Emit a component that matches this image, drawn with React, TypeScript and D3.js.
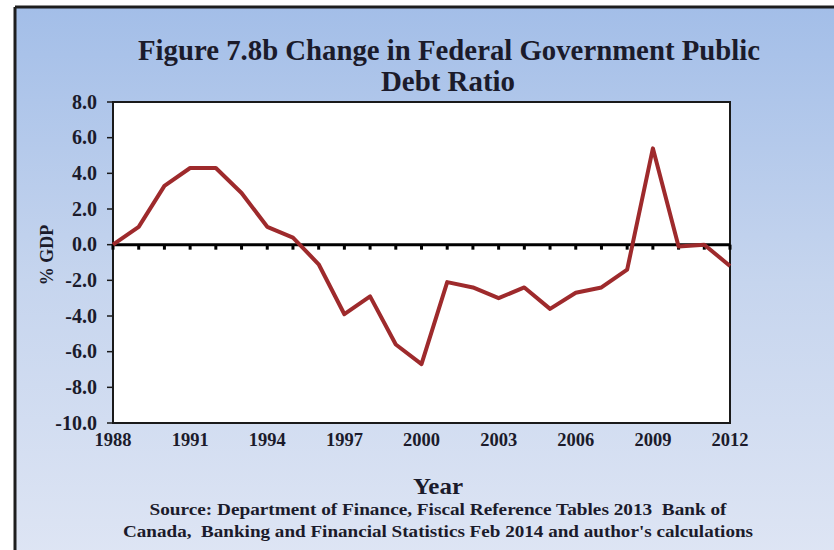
import React from "react";
import * as d3 from "d3";

const years: number[] = [1988, 1989, 1990, 1991, 1992, 1993, 1994, 1995, 1996, 1997, 1998, 1999, 2000, 2001, 2002, 2003, 2004, 2005, 2006, 2007, 2008, 2009, 2010, 2011, 2012];
const debtChange: number[] = [0.0, 1.0, 3.3, 4.3, 4.3, 2.9, 1.0, 0.4, -1.1, -3.9, -2.9, -5.6, -6.7, -2.1, -2.4, -3.0, -2.4, -3.6, -2.7, -2.4, -1.4, 5.4, -0.1, 0.0, -1.2];
const yTicks: number[] = [8, 6, 4, 2, 0, -2, -4, -6, -8, -10];
const xTickLabels: number[] = [1988, 1991, 1994, 1997, 2000, 2003, 2006, 2009, 2012];

const titleLines: string[] = ["Figure 7.8b Change in Federal Government Public", "Debt Ratio"];
const sourceLines: string[] = [
  "Source: Department of Finance, Fiscal Reference Tables 2013  Bank of",
  "Canada,  Banking and Financial Statistics Feb 2014 and author's calculations",
];

export default function App() {
  const W = 834;
  const H = 550;
  const left = 113, right = 730, top = 102, bottom = 423;
  const x = d3.scaleLinear().domain([1988, 2012]).range([left, right]);
  const y = d3.scaleLinear().domain([-10, 8]).range([bottom, top]);
  const line = d3
    .line<number>()
    .x((_, i) => x(years[i]))
    .y((d) => y(d))
    .curve(d3.curveLinear);
  const font = "'Liberation Serif', 'Times New Roman', serif";
  const ink = "#1b1b2b";

  return (
    <svg width={W} height={H} style={{ position: "absolute", left: 0, top: 0, display: "block" }} fontFamily={font}>
      <defs>
        <linearGradient id="bg" x1="0" y1="0" x2="0" y2="1">
          <stop offset="0" stopColor="#a3bee8" />
          <stop offset="0.5" stopColor="#c6d5ee" />
          <stop offset="1" stopColor="#dee5f4" />
        </linearGradient>
      </defs>
      <rect x={0} y={0} width={W} height={H} fill="#ffffff" />
      <rect x={15} y={7} width={W} height={H} fill="url(#bg)" />
      <line x1={15} y1={7} x2={W} y2={7} stroke="#1e1e1e" strokeWidth={3} />
      <line x1={15} y1={7} x2={15} y2={H} stroke="#1e1e1e" strokeWidth={3} />

      <text x={449} y={60} textAnchor="middle" fontSize={30} fontWeight="bold" fill={ink} textLength={622} lengthAdjust="spacingAndGlyphs">
        {titleLines[0]}
      </text>
      <text x={448} y={91} textAnchor="middle" fontSize={30} fontWeight="bold" fill={ink} textLength={134} lengthAdjust="spacingAndGlyphs">
        {titleLines[1]}
      </text>

      <rect x={left} y={top} width={right - left} height={bottom - top} fill="#ffffff" stroke="#1a1a1a" strokeWidth={2} />

      {yTicks.map((t) => (
        <g key={t}>
          <line x1={left - 6} x2={left} y1={y(t)} y2={y(t)} stroke="#1a1a1a" strokeWidth={1.5} />
          <text x={97} y={y(t) + 6.5} textAnchor="end" fontSize={20} fontWeight="bold" fill={ink}>
            {t.toFixed(1)}
          </text>
        </g>
      ))}

      <line x1={left} x2={right} y1={y(0)} y2={y(0)} stroke="#000" strokeWidth={3} />
      {years.map((yr) => (
        <line key={yr} x1={x(yr)} x2={x(yr)} y1={y(0)} y2={y(0) + 5} stroke="#000" strokeWidth={3} />
      ))}

      {xTickLabels.map((yr) => (
        <text key={yr} x={x(yr)} y={446} textAnchor="middle" fontSize={18.5} fontWeight="bold" fill={ink}>
          {yr}
        </text>
      ))}

      <path d={line(debtChange) || ""} fill="none" stroke="#9e2a2c" strokeWidth={4} strokeLinejoin="round" />

      <text
        transform={`translate(53, 255) rotate(-90)`}
        textAnchor="middle"
        fontSize={18}
        fontWeight="bold"
        fill={ink}
      >
        % GDP
      </text>

      <text x={438} y={494} textAnchor="middle" fontSize={24} fontWeight="bold" fill={ink} textLength={50} lengthAdjust="spacingAndGlyphs">
        Year
      </text>

      <text x={438} y={515} textAnchor="middle" fontSize={17.5} fontWeight="bold" fill={ink} textLength={577} lengthAdjust="spacingAndGlyphs" style={{ whiteSpace: "pre" }}>
        {sourceLines[0]}
      </text>
      <text x={438} y={537} textAnchor="middle" fontSize={17.5} fontWeight="bold" fill={ink} textLength={630} lengthAdjust="spacingAndGlyphs" style={{ whiteSpace: "pre" }}>
        {sourceLines[1]}
      </text>
    </svg>
  );
}
